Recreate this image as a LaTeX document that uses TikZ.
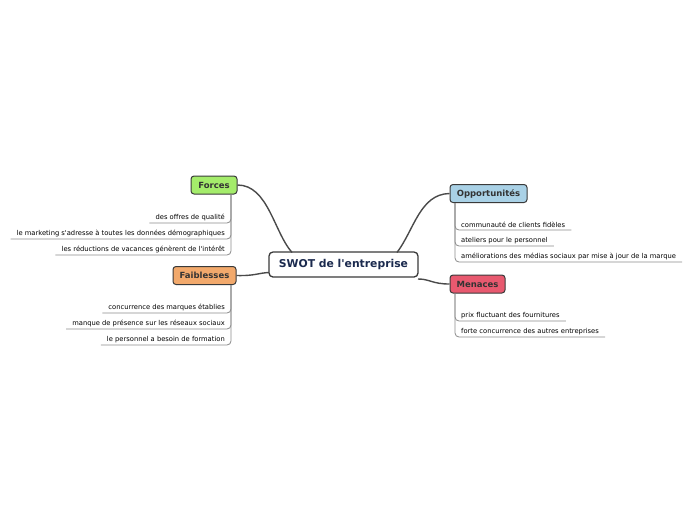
\documentclass[tikz,border=0pt]{standalone}
\usepackage{fontspec}
\setmainfont{DejaVu Sans}
\definecolor{forcesc}{HTML}{A4EC6B}
\definecolor{faibc}{HTML}{F2A96C}
\definecolor{oppc}{HTML}{A9D1E6}
\definecolor{menc}{HTML}{E8596F}
\definecolor{bordc}{HTML}{3A3A3A}
\definecolor{navy}{HTML}{1B2A4E}
\definecolor{linkc}{HTML}{4A4A4A}
\definecolor{leafc}{HTML}{8A8A8A}
\begin{document}
\begin{tikzpicture}[x=1pt,y=-1pt,
  topic/.style={draw=bordc,line width=1pt,rounded corners=3pt,font=\bfseries\fontsize{8.5}{10}\selectfont,text=black!80,inner sep=0pt,minimum height=18pt},
  central/.style={draw=bordc,line width=1.3pt,rounded corners=4pt,fill=white,font=\bfseries\fontsize{10.8}{12}\selectfont,text=navy,inner sep=0pt,minimum height=25pt,minimum width=149pt},
  link/.style={draw=linkc,line width=1.4pt},
  leaf/.style={font=\fontsize{6.75}{8}\selectfont,text=black,inner xsep=6pt,inner ysep=2pt},
  leafline/.style={draw=leafc,line width=0.8pt,rounded corners=4pt}]
\useasboundingbox (0,0) rectangle (696,520);

\node[central] (c) at (343.5,264.5) {SWOT de l\textquotesingle entreprise};
\node[topic,fill=forcesc,minimum width=46pt] (f) at (214,185) {Forces};
\node[topic,fill=faibc,minimum width=63pt] (w) at (204.5,275.5) {Faiblesses};
\node[topic,fill=oppc,minimum width=77pt] (o) at (488.5,193.5) {Opportunités};
\node[topic,fill=menc,minimum width=55pt] (m) at (477.5,284) {Menaces};

\coordinate (cf) at (292,252.5);
\coordinate (co) at (397,252.5);
\coordinate (cw) at (269,272.5);
\coordinate (cm) at (418,279);

\draw[link] (f.east) .. controls (268,185) and (274,232) .. (cf);
\draw[link] (o.west) .. controls (420,194) and (414,230) .. (co);
\draw[link] (w.east) .. controls (255,276) and (258,273) .. (cw);
\draw[link] (m.west) .. controls (432,284) and (430,279) .. (cm);

% Forces leaves
\node[leaf,anchor=south east] (f1) at (231,223) {des offres de qualité};
\node[leaf,anchor=south east] (f2) at (231,239) {le marketing s\textquotesingle adresse à toutes les données démographiques};
\node[leaf,anchor=south east] (f3) at (231,255) {les réductions de vacances génèrent de l\textquotesingle intérêt};
\foreach \n in {f1,f2,f3} \draw[leafline] (f.south -| 231,0) |- (\n.south west);

% Faiblesses leaves
\node[leaf,anchor=south east] (w1) at (231,313) {concurrence des marques établies};
\node[leaf,anchor=south east] (w2) at (231,329) {manque de présence sur les réseaux sociaux};
\node[leaf,anchor=south east] (w3) at (231,345) {le personnel a besoin de formation};
\foreach \n in {w1,w2,w3} \draw[leafline] (w.south -| 231,0) |- (\n.south west);

% Opportunites leaves
\node[leaf,anchor=south west] (o1) at (455,230) {communauté de clients fidèles};
\node[leaf,anchor=south west] (o2) at (455,246) {ateliers pour le personnel};
\node[leaf,anchor=south west] (o3) at (455,262) {améliorations des médias sociaux par mise à jour de la marque};
\foreach \n in {o1,o2,o3} \draw[leafline] (o.south -| 455,0) |- (\n.south east);

% Menaces leaves
\node[leaf,anchor=south west] (m1) at (455,321) {prix fluctuant des fournitures};
\node[leaf,anchor=south west] (m2) at (455,337) {forte concurrence des autres entreprises};
\foreach \n in {m1,m2} \draw[leafline] (m.south -| 455,0) |- (\n.south east);
\end{tikzpicture}
\end{document}
